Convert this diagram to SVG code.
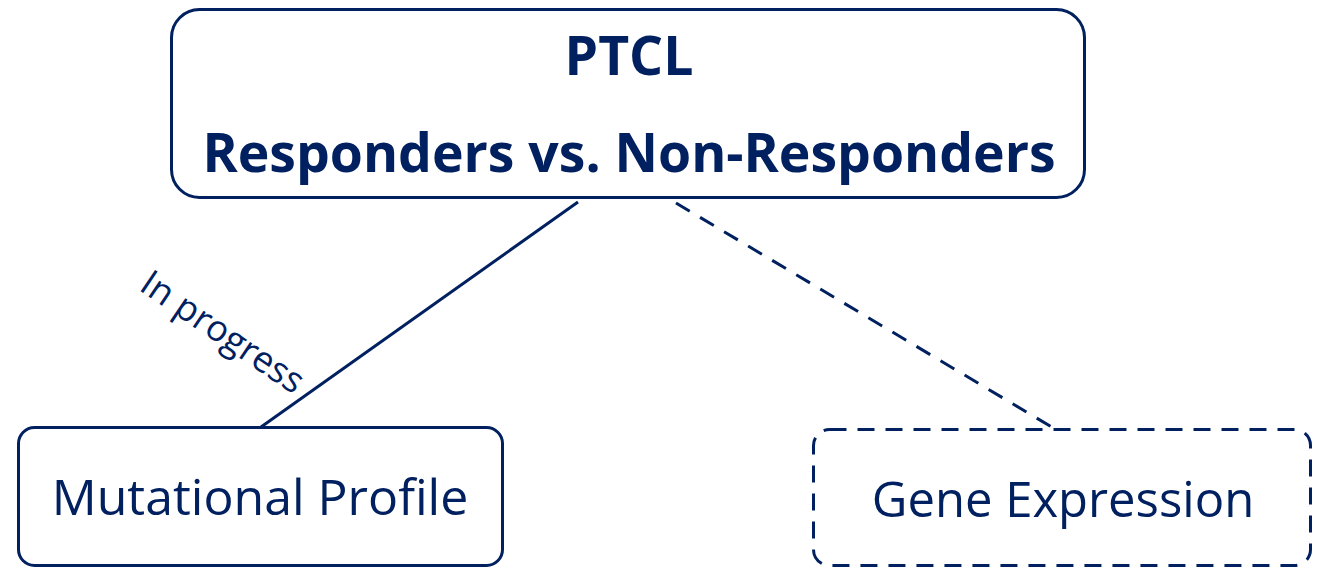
<svg xmlns="http://www.w3.org/2000/svg" width="1327" height="568" viewBox="0 0 1327 568">
<style>
.box{fill:#fff;stroke:#002060;stroke-width:3}
.dash{stroke-dasharray:17 11}
.t{font-family:"Open Sans","Liberation Sans",sans-serif;fill:#002060;text-anchor:middle}
.b{font-weight:bold;font-size:53.5px}
.r{font-size:50px}
.c{stroke:#002060;stroke-width:3;fill:none}
</style>
<rect width="1327" height="568" fill="#fff"/>
<g id="connectors">
<line class="c" x1="578" y1="202" x2="261" y2="427"/>
<line class="c" x1="676" y1="203" x2="1055" y2="429" stroke-dasharray="16 12"/>
<text class="t" x="222" y="344" font-size="36" transform="rotate(34 222 333)">In progress</text>
</g>
<g id="ptcl">
<rect class="box" x="171.5" y="9.5" width="913" height="188" rx="28"/>
<text class="t b" x="629" y="75">PTCL</text>
<text class="t b" x="629" y="172">Responders vs. Non-Responders</text>
</g>
<g id="mutational">
<rect class="box" x="18.5" y="427.5" width="484" height="138" rx="16"/>
<text class="t r" x="260" y="515">Mutational Profile</text>
</g>
<g id="gene">
<rect class="box dash" x="813.5" y="429.5" width="497" height="136" rx="16"/>
<text class="t" x="1063" y="517" font-size="49">Gene Expression</text>
</g>
</svg>
